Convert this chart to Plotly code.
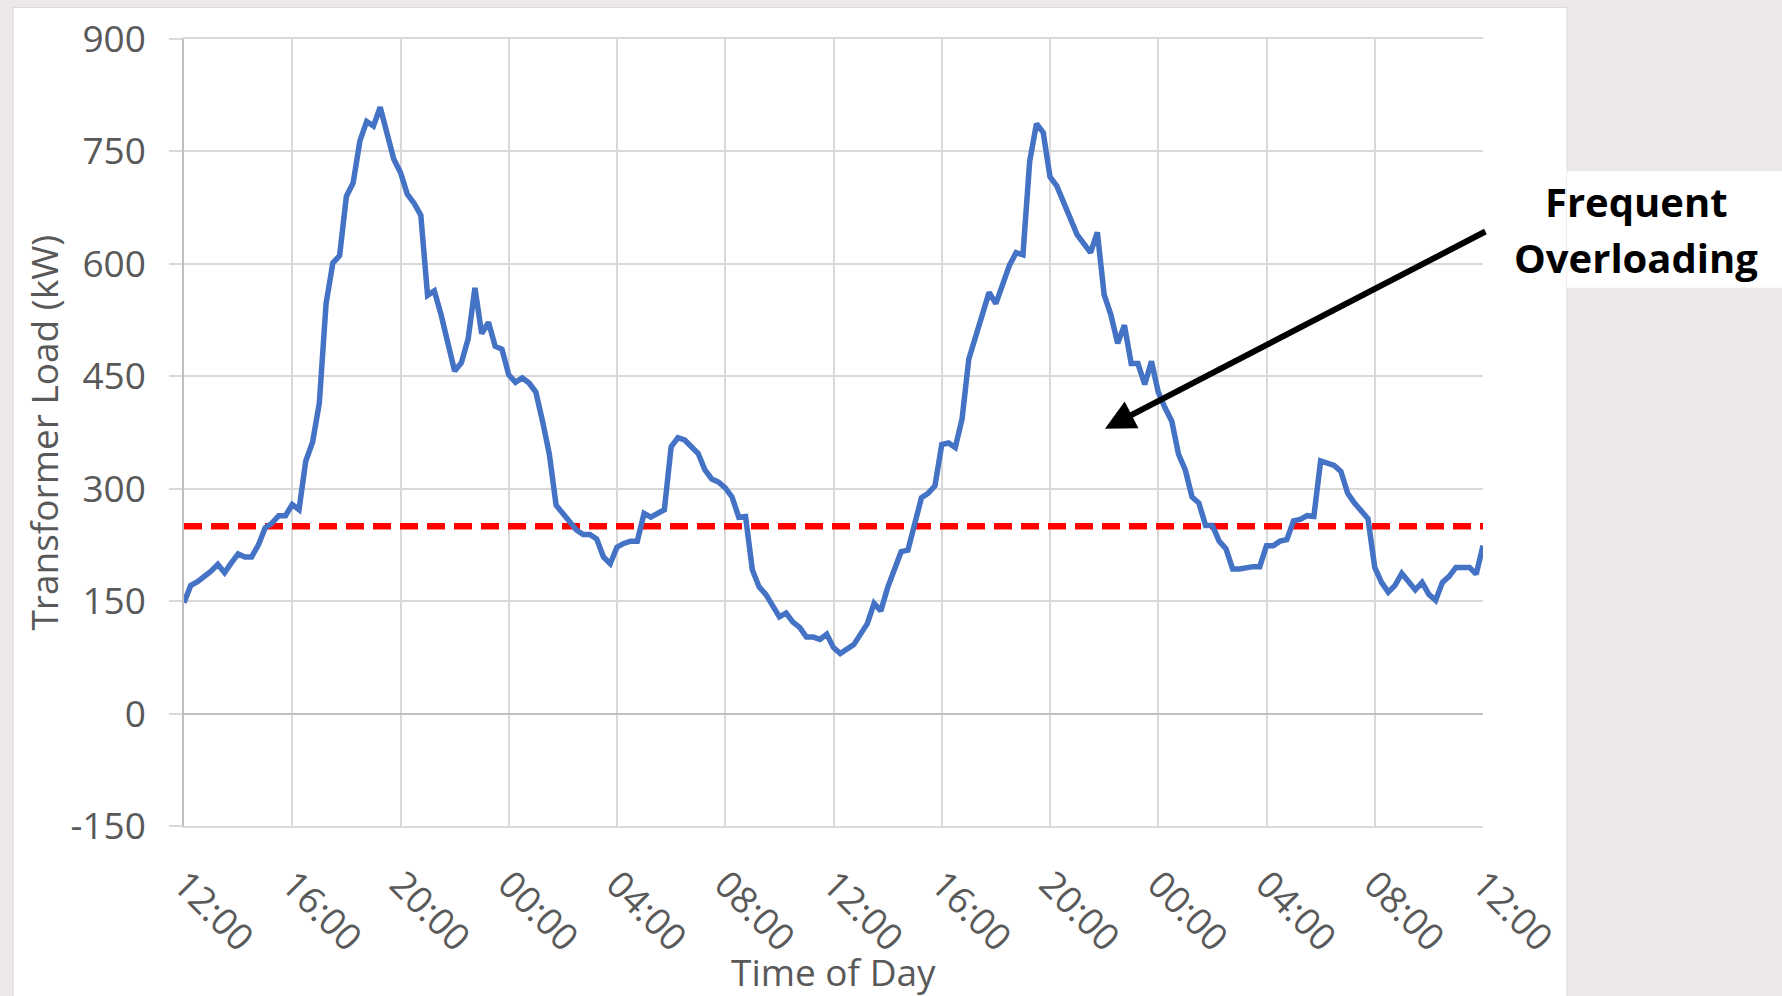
import plotly.graph_objects as go

# ---- data -------------------------------------------------------------
# hours elapsed since 12:00 on day 1 (48 h window)
hours = [
    0.0, 0.25, 0.5, 0.75, 1.0, 1.25, 1.5, 1.75, 2.0, 2.25, 2.5, 2.75, 3.0, 3.25, 3.5, 3.75,
    4.0, 4.25, 4.5, 4.75, 5.0, 5.25, 5.5, 5.75, 6.0, 6.25, 6.5, 6.75, 7.0, 7.25, 7.75,
    8.0, 8.25, 8.5, 8.75, 9.0, 9.25, 9.5, 9.75, 10.0, 10.25, 10.5, 10.75, 11.0, 11.25, 11.5, 11.75,
    12.0, 12.25, 12.5, 12.75, 13.0, 13.25, 13.5, 13.75, 14.0, 14.25, 14.5, 14.75, 15.0, 15.25, 15.5, 15.75,
    16.0, 16.25, 16.5, 16.75, 17.0, 17.25, 17.5, 17.75, 18.0, 18.25, 18.5, 18.75, 19.0, 19.25, 19.5, 19.75,
    20.0, 20.25, 20.5, 20.75, 21.0, 21.25, 21.5, 21.75, 22.0, 22.25, 22.5, 22.75, 23.0, 23.25, 23.5, 23.75,
    24.0, 24.25, 24.5, 24.75, 25.0, 25.25, 25.5, 25.75, 26.0, 26.25, 26.5, 26.75, 27.0, 27.25, 27.5, 27.75,
    28.0, 28.25, 28.5, 28.75, 29.0, 29.25, 29.5, 29.75, 30.0, 30.25, 30.5, 30.75, 31.0, 31.25, 31.5, 31.75,
    32.0, 32.25, 32.5, 32.75, 33.0, 33.25, 33.5, 33.75, 34.0, 34.25, 34.5, 34.75, 35.0, 35.25, 35.5, 35.75,
    36.0, 36.25, 36.5, 36.75, 37.0, 37.25, 37.5, 37.75, 38.0, 38.25, 38.5, 38.75, 39.0, 39.5, 39.75,
    40.0, 40.25, 40.5, 40.75, 41.0, 41.25, 41.5, 41.75, 42.0, 42.25, 42.5, 42.75, 43.0, 43.25, 43.5, 43.75,
    44.0, 44.25, 44.5, 44.75, 45.0, 45.25, 45.5, 45.75, 46.0, 46.25, 46.5, 46.75, 47.0, 47.25, 47.5, 47.75,
    48.0,
]
load_kw = [
    148, 171, 176, 182, 190, 199, 188, 201, 213, 209, 209, 225, 248, 254, 264, 264,
    279, 272, 337, 362, 414, 547, 601, 611, 690, 708, 764, 790, 784, 809, 740,
    722, 693, 681, 665, 558, 564, 532, 497, 457, 468, 500, 568, 507, 522, 490, 486,
    452, 442, 448, 441, 429, 390, 346, 278, 266, 254, 245, 239, 239, 233, 209, 200,
    222, 227, 230, 230, 267, 262, 266, 272, 356, 368, 365, 355, 347, 325, 313, 309,
    301, 289, 262, 263, 192, 169, 159, 144, 129, 134, 122, 115, 102, 102, 99, 106,
    88, 80, 85, 92, 106, 120, 147, 137, 168, 192, 216, 218, 254, 288, 294, 304,
    359, 361, 355, 393, 473, 503, 532, 562, 547, 571, 598, 615, 612, 737, 787, 775,
    716, 704, 681, 657, 639, 627, 615, 642, 559, 532, 494, 518, 467, 467, 439, 470,
    429, 408, 390, 346, 325, 289, 281, 251, 251, 230, 220, 193, 193, 196, 196,
    224, 224, 230, 232, 257, 259, 264, 263, 337, 334, 331, 323, 294, 281, 270, 260,
    195, 175, 162, 171, 187, 175, 165, 175, 159, 151, 175, 183, 195, 195, 195, 186,
    224,
]
threshold_kw = 250
threshold_x = [0, 48]

tick_hours = [0, 4, 8, 12, 16, 20, 24, 28, 32, 36, 40, 44, 48]
tick_labels = ["12:00", "16:00", "20:00", "00:00", "04:00", "08:00", "12:00",
               "16:00", "20:00", "00:00", "04:00", "08:00", "12:00"]
y_ticks = [-150, 0, 150, 300, 450, 600, 750, 900]
y_tick_labels = ["-150", "0", "150", "300", "450", "600", "750", "900"]

y_title = "Transformer Load (kW)"
x_title = "Time of Day"
callout = ["Frequent", "Overloading"]

# ---- styling ----------------------------------------------------------
FONT = "Open Sans"
GRAY_TXT = "#595959"
GRID = "#D9D9D9"
OUTER = "#EDE8E8"

fig = go.Figure()
fig.add_trace(go.Scatter(x=threshold_x, y=[threshold_kw] * len(threshold_x), mode="lines",
                         line=dict(color="#FF0000", width=6.5, dash="18px,9px"),
                         showlegend=False, hoverinfo="skip"))
fig.add_trace(go.Scatter(x=hours, y=load_kw, mode="lines",
                         line=dict(color="#4472C4", width=5.5),
                         showlegend=False))

fig.update_layout(
    width=1782, height=996,
    margin=dict(l=184, r=299, t=34, b=170),
    paper_bgcolor=OUTER, plot_bgcolor="white",
    font=dict(family=FONT, color=GRAY_TXT, size=37),
    xaxis=dict(range=[0, 48], tickvals=tick_hours, ticktext=tick_labels, tickangle=45,
               showgrid=True, gridcolor=GRID, gridwidth=1.5, zeroline=False,
               showline=True, mirror=True, linecolor=GRID, linewidth=1.5,
               ticks="", tickfont=dict(size=37, color=GRAY_TXT, family=FONT),
               ticklabelstandoff=20),
    yaxis=dict(range=[-150, 900], tickvals=y_ticks, ticktext=y_tick_labels,
               showgrid=True, gridcolor=GRID, gridwidth=1.5,
               zeroline=True, zerolinecolor="#BFBFBF", zerolinewidth=1.5,
               showline=True, linecolor="#BFBFBF", linewidth=1.5,
               ticks="outside", ticklen=13, tickwidth=1.5, tickcolor=GRID,
               tickfont=dict(size=37, color=GRAY_TXT, family=FONT),
               ticklabelstandoff=16),
)

# white chart panel and callout box (paper coordinates)
fig.add_shape(type="rect", xref="paper", yref="paper", x0=-0.1316, x1=1.0647, y0=-0.25, y1=1.04,
              fillcolor="white", line=dict(color=GRID, width=1), layer="below")
fig.add_shape(type="rect", xref="paper", yref="paper", x0=1.0647, x1=1.25, y0=0.684, y1=0.8319,
              fillcolor="white", line=dict(width=0), layer="below")

# axis titles
fig.add_annotation(text=y_title, xref="paper", yref="paper", x=-0.1085, y=0.5, textangle=-90,
                   showarrow=False, font=dict(size=37, color=GRAY_TXT, family=FONT),
                   xanchor="center", yanchor="middle")
fig.add_annotation(text=x_title, xref="paper", yref="paper", x=0.5, y=-0.1846,
                   showarrow=False, font=dict(size=37, color=GRAY_TXT, family=FONT),
                   xanchor="center", yanchor="middle")

# callout text
fig.add_annotation(text="<b>%s</b>" % callout[0], xref="paper", yref="paper", x=1.1178, y=0.7939,
                   showarrow=False, font=dict(size=40, color="black", family=FONT),
                   xanchor="center", yanchor="middle")
fig.add_annotation(text="<b>%s</b>" % callout[1], xref="paper", yref="paper", x=1.1178, y=0.7225,
                   showarrow=False, font=dict(size=40, color="black", family=FONT),
                   xanchor="center", yanchor="middle")

# arrow
fig.add_annotation(text="", x=34.03, y=380, xref="x", yref="y", ax=382, ay=-198,
                   showarrow=True, arrowhead=2, arrowsize=1, arrowwidth=6,
                   arrowcolor="black", standoff=0)

fig.write_html("out.html", config={"displayModeBar": False},
               post_script="document.body.style.margin='0';")
